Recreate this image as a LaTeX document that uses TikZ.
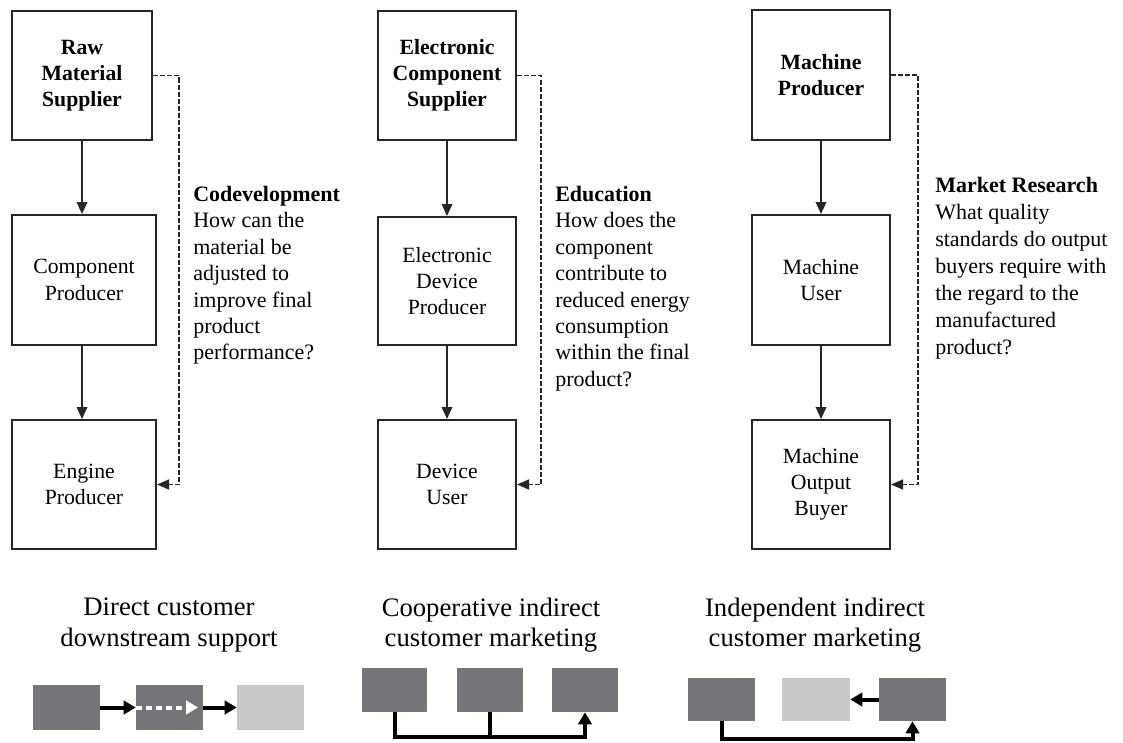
\documentclass[tikz,border=0pt]{standalone}
\usepackage{fontspec}
\setmainfont{Liberation Serif}
\usetikzlibrary{arrows.meta}
\definecolor{darkblock}{RGB}{118,118,122}
\definecolor{lightblock}{RGB}{200,200,202}
\begin{document}
\begin{tikzpicture}[x=0.75pt,y=-0.75pt,
  chainbox/.style={draw=black!85,line width=1.5pt,align=center,inner sep=0pt,
    font=\fontsize{16.3pt}{19.7pt}\selectfont},
  flow/.style={draw=black!85,line width=1.1pt,-{Triangle[length=9pt,width=8pt]}},
  feedback/.style={draw=black!85,line width=1.1pt,dash pattern=on 3.75pt off 1.5pt,
    -{Triangle[length=9pt,width=7.5pt]}},
  note/.style={anchor=north west,align=left,inner sep=0pt,
    font=\fontsize{16.5pt}{19.8pt}\selectfont},
  caption/.style={align=center,inner sep=0pt,font=\fontsize{20pt}{23pt}\selectfont},
  darkbox/.style={fill=darkblock,draw=none,inner sep=0pt},
  lightbox/.style={fill=lightblock,draw=none,inner sep=0pt},
  heavy/.style={draw=black,line width=3pt,-{Triangle[length=9pt,width=10pt]}},
  heavyline/.style={draw=black,line width=3pt}
]
\useasboundingbox (0,0) rectangle (1123,742);

% ---- first chain: codevelopment ----
\node[chainbox,minimum width=105pt,minimum height=96.75pt] (a1) at (82,75.5)
  {\bfseries Raw\\\bfseries Material\\\bfseries Supplier};
\node[chainbox,minimum width=108pt,minimum height=97.5pt] (a2) at (84,280)
  {Component\\Producer};
\node[chainbox,minimum width=108pt,minimum height=96.75pt] (a3) at (84,484.5)
  {Engine\\Producer};
\draw[flow] (a1.south) -- (a1.south |- a2.north);
\draw[flow] (a1.south |- a2.south) -- (a1.south |- a3.north);
\draw[feedback] (a1.east) -- ++(26,0) |- (a3.east);
\node[note] (n1) at (193,186)
  {\textbf{Codevelopment}\\How can the\\material be\\adjusted to\\improve final\\product\\performance?};

% ---- second chain: education ----
\node[chainbox,minimum width=103.5pt,minimum height=96.75pt] (b1) at (447,75.5)
  {\bfseries Electronic\\\bfseries Component\\\bfseries Supplier};
\node[chainbox,minimum width=103.5pt,minimum height=96pt] (b2) at (447,281)
  {Electronic\\Device\\Producer};
\node[chainbox,minimum width=103.5pt,minimum height=96.75pt] (b3) at (447,484.5)
  {Device\\User};
\draw[flow] (b1.south) -- (b2.north);
\draw[flow] (b2.south) -- (b3.north);
\draw[feedback] (b1.east) -- ++(24,0) |- (b3.east);
\node[note] (n2) at (555,186)
  {\textbf{Education}\\How does the\\component\\contribute to\\reduced energy\\consumption\\within the final\\product?};

% ---- third chain: market research ----
\node[chainbox,minimum width=103.5pt,minimum height=97.5pt] (c1) at (821,75)
  {\bfseries Machine\\\bfseries Producer};
\node[chainbox,minimum width=103.5pt,minimum height=97.5pt] (c2) at (821,280)
  {Machine\\User};
\node[chainbox,minimum width=103.5pt,minimum height=96.75pt] (c3) at (821,484.5)
  {Machine\\Output\\Buyer};
\draw[flow] (c1.south) -- (c2.north);
\draw[flow] (c2.south) -- (c3.north);
\draw[feedback] (c1.east) -- ++(27,0) |- (c3.east);
\node[note,font=\fontsize{16.5pt}{20.2pt}\selectfont] (n3) at (935,177)
  {\textbf{Market Research}\\What quality\\standards do output\\buyers require with\\the regard to the\\manufactured\\product?};

% ---- captions ----
\node[caption] (t1) at (169,625) {Direct customer\\downstream support};
\node[caption] (t2) at (491,625) {Cooperative indirect\\customer marketing};
\node[caption] (t3) at (815,625) {Independent indirect\\customer marketing};

% ---- icon: direct support ----
\node[darkbox,minimum width=50.25pt,minimum height=33.75pt] (d1) at (66.5,707.5) {};
\node[darkbox,minimum width=50.25pt,minimum height=33.75pt] (d2) at (169.5,707.5) {};
\node[lightbox,minimum width=50.25pt,minimum height=33.75pt] (d3) at (270.5,707.5) {};
\draw[heavy] (d1.east) -- (d2.west);
\draw[heavy] (d2.east) -- (d3.west);
\coordinate (d2tip) at (198,707.5);
\draw[draw=white,line width=3pt,dash pattern=on 4.5pt off 3pt,
  -{Triangle[length=9pt,width=10pt,fill=white]}] (d2.west) -- (d2tip);

% ---- icon: cooperative indirect ----
\node[darkbox,minimum width=48.75pt,minimum height=33pt] (e1) at (394.5,690) {};
\node[darkbox,minimum width=49.5pt,minimum height=33pt] (e2) at (490,690) {};
\node[darkbox,minimum width=49.5pt,minimum height=33pt] (e3) at (585,690) {};
\coordinate (ebase) at (394.5,737);
\draw[heavy] (e1.south) -- (ebase) -| (e3.south);
\draw[heavyline] (e2.south) -- (e2.south |- ebase);

% ---- icon: independent indirect ----
\node[darkbox,minimum width=50.25pt,minimum height=32.25pt] (f1) at (721.5,699.5) {};
\node[lightbox,minimum width=51pt,minimum height=32.25pt] (f2) at (816,699.5) {};
\node[darkbox,minimum width=50.25pt,minimum height=32.25pt] (f3) at (912.5,699.5) {};
\draw[heavy] (f3.west) -- (f2.east);
\coordinate (fbase) at (721.5,739);
\draw[heavy] (f1.south) -- (fbase) -| (f3.south);
\end{tikzpicture}
\end{document}
